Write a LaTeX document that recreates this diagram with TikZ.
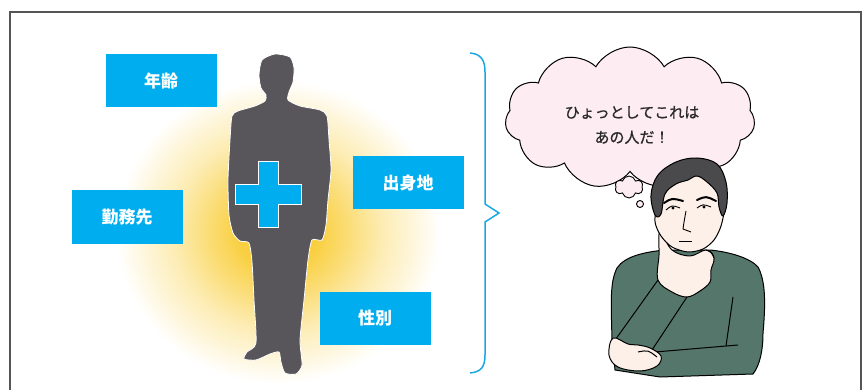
\documentclass[tikz,border=0pt]{standalone}
\usepackage{fontspec}
\newfontfamily\jp{Noto Sans CJK JP}
\newfontfamily\jpmed[FakeBold=0.8]{Noto Sans CJK JP}
\usepackage{tikz}
\usetikzlibrary{shapes.symbols}
\definecolor{boxcyan}{HTML}{00AEEF}
\definecolor{bracecyan}{HTML}{1BA8E2}
\definecolor{shadowgray}{HTML}{58565A}
\definecolor{glowyellow}{HTML}{F9CF3F}
\definecolor{cloudpink}{HTML}{FDECF2}
\definecolor{shirtgreen}{HTML}{55766A}
\definecolor{skin}{HTML}{FDF0E8}
\definecolor{hairgray}{HTML}{4A4A4C}
\definecolor{framegray}{HTML}{555555}
\definecolor{textgray}{HTML}{2A2A2A}
\pgfdeclareradialshading{glow}{\pgfpoint{0bp}{0bp}}{color(0bp)=(glowyellow); color(6bp)=(glowyellow); color(16bp)=(glowyellow!40); color(25bp)=(white); color(50bp)=(white)}
\tikzset{
  infobox/.style={rectangle,fill=boxcyan,text=white,minimum width=111pt,minimum height=53pt,inner sep=0pt,font=\jp\bfseries\fontsize{17}{17}\selectfont},
  outline/.style={draw=black,line width=1pt,line join=round},
}
\begin{document}
\begin{tikzpicture}[x=1pt,y=-1pt]
\useasboundingbox(0,0)rectangle(862,390);
%frame
\draw[framegray,line width=1.3pt](10,390)--(10,12)--(861,12)--(861,390);
%glow and silhouette
\shade[shading=glow](278,232)ellipse(162 and 152);
\fill[shadowgray,draw=white,line width=.8pt]plot[smooth cycle,tension=.4]coordinates{(262,60)(275,54)(290,57)(294,68)(293,82)(289,92)(288,100)(300,106)(320,110)(327,116)(329,140)(331,170)(328,200)(326,225)(322,240)(312,240)(308,260)(304,300)(300,340)(302,365)(296,374)(285,373)(281,362)(279,352)(270,354)(256,360)(244,359)(247,352)(256,343)(254,300)(252,262)(249,243)(240,241)(233,233)(229,215)(228,180)(230,140)(232,116)(238,111)(255,106)(265,101)(266,95)(261,88)(259,75)};
\filldraw[fill=boxcyan,draw=white,line width=1pt](235,185)--(258,185)--(258,162)--(278,162)--(278,185)--(301,185)--(301,205)--(278,205)--(278,228)--(258,228)--(258,205)--(235,205)--cycle;
%boxes
\node[infobox](age)at(161,81){年齢};
\node[infobox](work)at(127,217){勤務先};
\node[infobox](home)at(408,183){出身地};
\node[infobox](sex)at(375,318){性別};
%brace
\draw[bracecyan,line width=1.5pt](470,53)..controls(481,54)and(485,60)..(485,72)--(485,204)--(499,213)--(485,222)--(485,355)..controls(485,367)and(481,372)..(470,373);
%thought cloud
\node[cloud,cloud puffs=11,cloud puff arc=120,aspect=1.85,draw=black,line width=1pt,fill=cloudpink,minimum width=250pt,minimum height=142pt,inner sep=0pt](thought)at(630,118){};
\node[font=\jpmed\fontsize{15}{25}\selectfont,text=textgray,align=center](words)at(632,125){ひょっとしてこれは\\あの人だ！};
\node[cloud,cloud puffs=6,draw=black,line width=.9pt,fill=cloudpink,minimum width=28pt,minimum height=22pt,inner sep=0pt](puff)at(629,187){};
\node[circle,draw=black,line width=.9pt,fill=cloudpink,minimum size=7pt,inner sep=0pt](dot)at(640,204){};
%man
\filldraw[fill=shirtgreen,outline](665,250)..controls(645,252)and(625,256)..(617,268)..controls(610,282)and(611,300)..(612,340)--(615,370)--(660,377)--(753,374)..controls(760,365)and(763,350)..(763,333)..controls(766,300)and(765,280)..(758,267)..controls(750,258)and(730,252)..(710,250)--cycle;
\filldraw[fill=skin,outline]plot[smooth cycle,tension=.6]coordinates{(660,232)(672,250)(690,256)(706,250)(714,258)(711,270)(710,282)(700,291)(687,297)(672,292)(658,280)(659,255)};
\draw[outline](658,280)--(613,343);
\draw[outline](687,297)--(652,350);
\draw[outline](655,352)--(738,345);
\draw[outline](733,297)--(726,346);
\filldraw[fill=skin,outline]plot[smooth cycle]coordinates{(657,205)(655,222)(661,236)(672,247)(688,252)(703,249)(714,240)(721,226)(724,208)(718,188)(700,176)(676,178)(661,190)};
\draw[outline](706,250)..controls(712,252)..(714,258);
\filldraw[fill=hairgray,outline]plot[smooth cycle,tension=.6]coordinates{(655,215)(651,195)(658,175)(676,162)(697,158)(717,164)(726,182)(727,203)(723,216)(719,207)(717,193)(707,182)(697,176)(688,180)(676,184)(665,194)(661,214)};
\draw[line width=2pt,line cap=round](664,203)..controls(672,198)..(683,201);
\draw[line width=2pt,line cap=round](697,200)..controls(706,196)..(716,201);
\draw[line width=.9pt](666,210)..controls(672,205)..(680,208);
\fill(673,208)circle(1.6);
\draw[line width=.9pt](697,208)..controls(703,204)..(711,207);
\fill(704,207)circle(1.6);
\draw[line width=.9pt](686,211)..controls(684,222)..(683,229)--(691,232);
\draw[line width=1pt](679,242)--(692,242);
\filldraw[fill=skin,outline]plot[smooth cycle,tension=.6]coordinates{(613,338)(609,355)(618,367)(640,371)(657,366)(661,356)(650,348)(638,345)(628,344)};
\draw[outline](638,352)..controls(648,350)..(657,357);
\end{tikzpicture}
\end{document}
